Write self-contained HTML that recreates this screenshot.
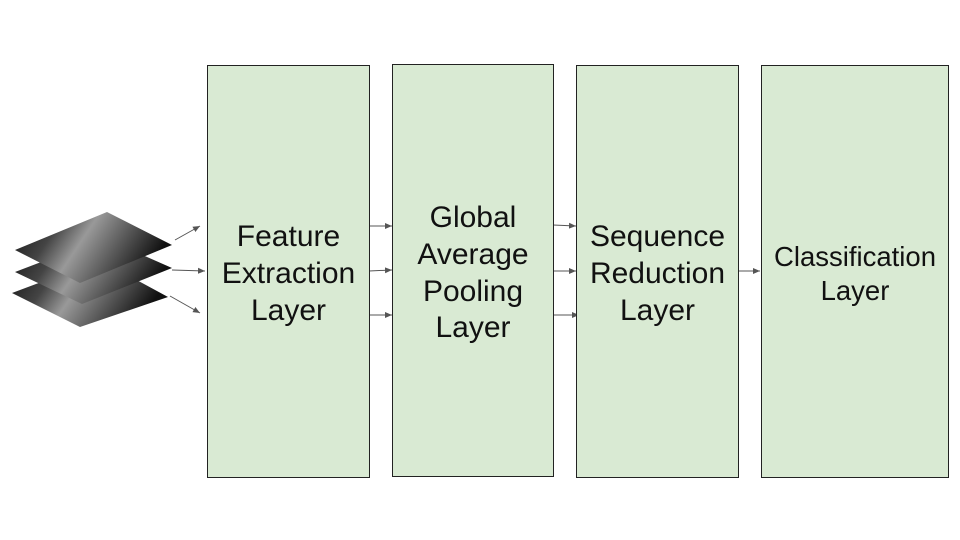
<!DOCTYPE html>
<html><head><style>
body{margin:0;width:960px;height:540px;background:#fff;position:relative;overflow:hidden;font-family:"Liberation Sans",sans-serif}
.b{position:absolute;background:#d9ead3;border:1px solid #222;box-sizing:border-box;display:flex;align-items:center;justify-content:center;text-align:center;color:#111;font-size:30px;line-height:36.7px;padding-top:6px}
</style></head><body>
<svg width="960" height="540" style="position:absolute;left:0;top:0">
<defs>
<linearGradient id="g" x1="0" y1="0" x2="1" y2="0.3"><stop offset="0" stop-color="#111"/><stop offset="0.3" stop-color="#444"/><stop offset="0.5" stop-color="#999"/><stop offset="0.75" stop-color="#555"/><stop offset="1" stop-color="#111"/></linearGradient>
<marker id="a" markerWidth="8" markerHeight="8" refX="7" refY="4" orient="auto"><path d="M0,1 L7,4 L0,7z" fill="#555"/></marker>
</defs>
<polygon points="12,293 100,260 168,297 80,327" fill="url(#g)"/>
<polygon points="15,272 104,238 172,268 82,304" fill="url(#g)"/>
<polygon points="15,250 107,212 172,245 80,283" fill="url(#g)"/>
<g stroke="#555" stroke-width="1" marker-end="url(#a)">
<line x1="175" y1="240" x2="200" y2="226"/>
<line x1="172" y1="270" x2="205" y2="271"/>
<line x1="170" y1="296" x2="200" y2="313"/>
<line x1="369" y1="226" x2="392" y2="226"/>
<line x1="369" y1="271" x2="392" y2="270"/>
<line x1="369" y1="315" x2="392" y2="315"/>
<line x1="553" y1="225" x2="576" y2="226"/>
<line x1="553" y1="271" x2="576" y2="271"/>
<line x1="553" y1="315" x2="579" y2="315"/>
<line x1="738" y1="271" x2="760" y2="271"/>
</g>
</svg>
<div class="b" style="left:207px;top:65px;width:163px;height:413px">Feature<br>Extraction<br>Layer</div>
<div class="b" style="left:392px;top:64px;width:162px;height:413px">Global<br>Average<br>Pooling<br>Layer</div>
<div class="b" style="left:576px;top:65px;width:163px;height:413px">Sequence<br>Reduction<br>Layer</div>
<div class="b" style="left:761px;top:65px;width:188px;height:413px;font-size:27.5px;line-height:34px;padding-top:4px">Classification<br>Layer</div>
</body></html>
